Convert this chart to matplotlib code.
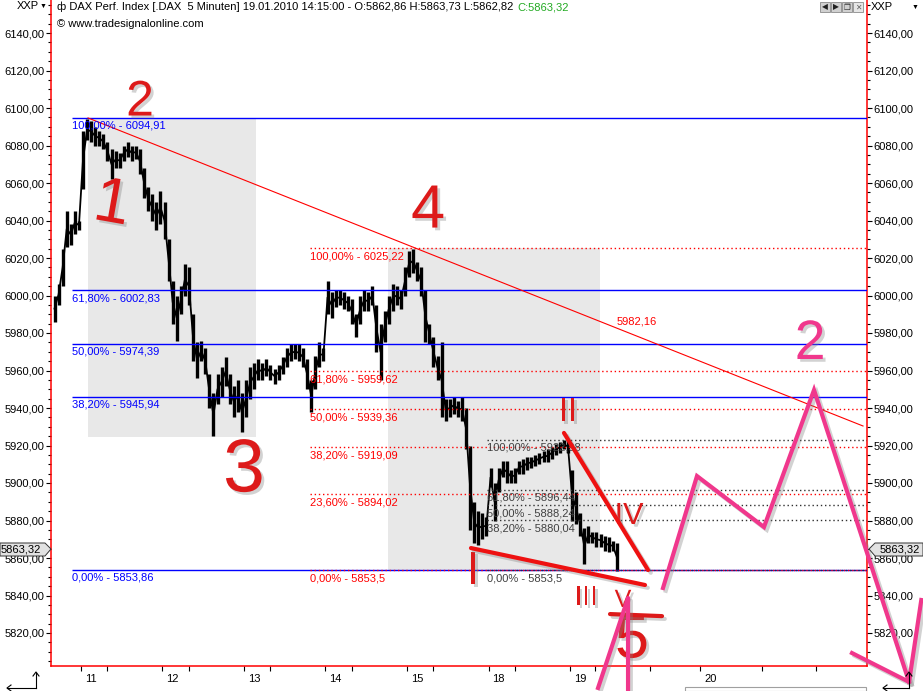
import matplotlib
matplotlib.use("Agg")
import matplotlib.pyplot as plt
import matplotlib.patheffects as pe
from matplotlib.patches import Rectangle, Polygon
from matplotlib.lines import Line2D
from matplotlib.ticker import MultipleLocator, FixedLocator, FuncFormatter
import numpy as np

plt.rcParams['font.family'] = ['Liberation Sans', 'DejaVu Sans']

# ------------------------------------------------------------------ data
# 5-minute DAX price band (low/high per ~25 min slot, 20 slots per day)
fri08_low  = [5986, 5995, 6005, 6026, 6027, 6033, 6035]
fri08_high = [6000, 6006, 6025, 6045, 6038, 6045, 6040]
jan11_low  = [6057, 6083, 6082, 6080, 6080, 6078, 6072, 6062, 6068, 6068,
              6072, 6074, 6072, 6073, 6065, 6052, 6045, 6040, 6035, 6038]
jan11_high = [6088, 6094, 6093, 6090, 6088, 6086, 6082, 6078, 6077, 6076,
              6080, 6082, 6080, 6080, 6078, 6068, 6058, 6054, 6050, 6056]
jan12_low  = [6030, 6008, 5985, 5976, 5990, 6000, 5995, 5965, 5956, 5965,
              5958, 5940, 5925, 5942, 5946, 5952, 5942, 5935, 5938, 5927]
jan12_high = [6050, 6030, 6008, 6000, 6005, 6017, 6015, 5990, 5975, 5976,
              5972, 5958, 5948, 5958, 5962, 5967, 5958, 5952, 5955, 5948]
jan13_low  = [5935, 5945, 5950, 5955, 5955, 5957, 5955, 5953, 5955, 5958,
              5962, 5965, 5966, 5965, 5962, 5950, 5938, 5950, 5962, 5965]
jan13_high = [5955, 5962, 5964, 5966, 5964, 5966, 5963, 5961, 5963, 5967,
              5972, 5974, 5974, 5974, 5972, 5966, 5955, 5968, 5975, 5972]
jan14_low  = [5990, 5988, 5994, 5995, 5993, 5992, 5985, 5978, 5985, 5992,
              5992, 5995, 5970, 5955, 5975, 5985, 5992, 5995, 5993, 6000]
jan14_high = [6008, 6002, 6003, 6003, 6002, 6000, 5998, 5990, 6000, 6003,
              6002, 6005, 5995, 5985, 5992, 6000, 6006, 6005, 6003, 6015]
jan15_low  = [6010, 6012, 6008, 6000, 5975, 5974, 5962, 5955, 5935, 5933,
              5935, 5937, 5935, 5933, 5918, 5875, 5868, 5867, 5870, 5872]
jan15_high = [6024, 6025, 6018, 6015, 6003, 5985, 5978, 5968, 5975, 5945,
              5945, 5946, 5944, 5946, 5940, 5920, 5890, 5885, 5884, 5882]
jan18_low  = [5898, 5880, 5895, 5903, 5900, 5900, 5900, 5905, 5905, 5907,
              5908, 5909, 5910, 5911, 5911, 5913, 5915, 5916, 5918, 5916]
jan18_high = [5908, 5900, 5908, 5912, 5912, 5907, 5908, 5912, 5913, 5914,
              5914, 5915, 5916, 5917, 5918, 5919, 5921, 5922, 5923, 5923]
jan19_low  = [5880, 5878, 5872, 5857, 5868, 5868, 5866, 5866, 5864, 5863, 5864, 5853]
jan19_high = [5907, 5895, 5884, 5876, 5877, 5874, 5874, 5873, 5872, 5871, 5869, 5868]

day_tick_labels = ["11", "12", "13", "14", "15", "18", "19", "20"]
day_tick_pos    = [0, 1, 2, 3, 4, 5, 6, 7.6]
midday_tick_pos = [0.32, 1.32, 2.32, 3.32, 4.32, 5.32, 6.31, 6.98, 8.36, 9.02]

fib_blue_levels = [6094.91, 6002.83, 5974.39, 5945.94, 5853.86]
fib_blue_pcts   = ["100,00%", "61,80%", "50,00%", "38,20%", "0,00%"]
fib_red_levels  = [6025.22, 5959.62, 5939.36, 5919.09, 5894.02, 5853.5]
fib_red_pcts    = ["100,00%", "61,80%", "50,00%", "38,20%", "23,60%", "0,00%"]
fib_gray_levels = [5922.98, 5896.44, 5888.24, 5880.04, 5853.5]
fib_gray_pcts   = ["100,00%", "61,80%", "50,00%", "38,20%", "0,00%"]

trend_t = [0.086, 9.595]
trend_v = [6094.7, 5930.4]
trend_label = "5982,16"
last_close = "5863,32"

# ------------------------------------------------------------------ figure
W, H = 923, 691
fig = plt.figure(figsize=(W / 100, H / 100), dpi=100)
ax = fig.add_axes([51 / W, 25 / H, 816 / W, 666 / H])
XMIN, XMAX = -0.368, 9.644
YMIN, YMAX = 5802.4, 6157.6
ax.set_xlim(XMIN, XMAX)
ax.set_ylim(YMIN, YMAX)

def F(x, y):
    return (x / W, 1 - y / H)

# shaded fib zones
ax.add_patch(Rectangle((0.086, 5924.5), 2.147 - 0.086, 6094.91 - 5924.5,
                       facecolor='#e8e8e8', edgecolor='none', zorder=0.5))
ax.add_patch(Rectangle((3.767, 5853.5), 6.368 - 3.767, 6025.22 - 5853.5,
                       facecolor='#e8e8e8', edgecolor='none', zorder=0.5))

# price band
SLOTS = 20
series = [(-1, 13, fri08_low, fri08_high), (0, 0, jan11_low, jan11_high),
          (1, 0, jan12_low, jan12_high), (2, 0, jan13_low, jan13_high),
          (3, 0, jan14_low, jan14_high), (4, 0, jan15_low, jan15_high),
          (5, 0, jan18_low, jan18_high), (6, 0, jan19_low, jan19_high)]
t_all, lo_all, hi_all = [], [], []
for d, start, lo, hi in series:
    for i, (l, h) in enumerate(zip(lo, hi)):
        t_all.append(d + (start + i + 0.5) / SLOTS)
        lo_all.append(l)
        hi_all.append(h)
t_all = np.array(t_all); lo_all = np.array(lo_all); hi_all = np.array(hi_all)
ax.vlines(t_all, lo_all, hi_all, color='black', lw=2.4, zorder=2)
ax.plot(t_all, (lo_all + hi_all) / 2, color='black', lw=1.3, zorder=2)

def fmt(v):
    s = f"{v:.2f}"
    if s.endswith('0'):
        s = s[:-1]
    return s.replace('.', ',')

# fib retracements
x_blue, x_red, x_gray = -0.11, 2.81, 4.98
for lvl, pct in zip(fib_blue_levels, fib_blue_pcts):
    ax.hlines(lvl, x_blue, XMAX + 1, color='#0000ff', lw=1.0, zorder=3)
    ax.annotate(f"{pct} - {fmt(lvl)}", (x_blue, lvl), xytext=(0, -3),
                textcoords='offset pixels', va='top', ha='left',
                color='#0000ff', fontsize=8, zorder=4)
for lvl, pct in zip(fib_red_levels, fib_red_pcts):
    ax.hlines(lvl, x_red, XMAX + 1, color='#ff0000', lw=1.0,
              linestyle=(0, (1, 2)), zorder=3)
    ax.annotate(f"{pct} - {fmt(lvl)}", (x_red, lvl), xytext=(0, -3),
                textcoords='offset pixels', va='top', ha='left',
                color='#ff0000', fontsize=8, zorder=4)
for lvl, pct in zip(fib_gray_levels, fib_gray_pcts):
    ax.hlines(lvl, x_gray, XMAX + 1, color='#303030', lw=1.0,
              linestyle=(0, (1, 2)), zorder=3)
    ax.annotate(f"{pct} - {fmt(lvl)}", (x_gray, lvl), xytext=(0, -3),
                textcoords='offset pixels', va='top', ha='left',
                color='#404040', fontsize=8, zorder=4)

# trendline
ax.plot(trend_t, trend_v, color='#ff0000', lw=0.8, zorder=3)
ax.text(6.577, 5986.4, trend_label, color='#ff0000', fontsize=8,
        ha='left', va='center', zorder=4)

# ------------------------------------------------------------------ axes styling
for s in ['left', 'right', 'bottom']:
    ax.spines[s].set_color('#ff0000')
    ax.spines[s].set_linewidth(1.1)
ax.spines['top'].set_visible(False)
ax.yaxis.set_major_locator(MultipleLocator(20))
ax.yaxis.set_minor_locator(MultipleLocator(5))
ax.yaxis.set_major_formatter(FuncFormatter(lambda v, p: f"{v:.2f}".replace('.', ',')))
ax.tick_params(axis='y', which='both', left=True, right=True, labelleft=True,
               labelright=True, direction='out', colors='black', labelsize=8,
               width=0.8, pad=1)
ax.tick_params(axis='y', which='major', length=3.6)
ax.tick_params(axis='y', which='minor', length=2.0)
ax.set_xticks([p + 0.125 for p in day_tick_pos], day_tick_labels)
ax.xaxis.set_minor_locator(FixedLocator(day_tick_pos + midday_tick_pos))
ax.tick_params(axis='x', which='major', length=0, labelsize=8, pad=6)
ax.tick_params(axis='x', which='minor', length=3.6, width=0.8, direction='out')

# ------------------------------------------------------------------ hand drawn marks
shadow_line = [pe.SimpleLineShadow(offset=(2, -2), shadow_color='gray', alpha=0.35), pe.Normal()]
shadow_text = [pe.withSimplePatchShadow(offset=(2, -2), shadow_rgbFace='gray', alpha=0.35)]
RED = '#dd1a1a'
PINK = '#f0378c'

ax.text(0.724, 6096.0, "2", color=RED, fontsize=36, ha='center', va='baseline',
        zorder=6, path_effects=shadow_text)
hand_numbers = [("1", 0.38, 6048.3, 46, -10),
                ("4", 4.258, 6044.5, 44, 0), ("3", 2.0, 5905.9, 54, 0),
                ("II", 5.975, 5937.9, 25, 0), ("IV", 6.724, 5882.4, 22, 0),
                ("I", 4.81, 5852.5, 34, 0), ("III", 6.196, 5838.7, 20, 0),
                ("V", 6.65, 5837.6, 18, 0), ("5", 6.761, 5815.2, 44, 0)]
for txt, tx, ty, fs, rot in hand_numbers:
    ax.text(tx, ty, txt, color=RED, fontsize=fs, ha='center', va='center',
            rotation=rot, zorder=6, path_effects=shadow_text, clip_on=False)

# wedge lines
ax.plot([4.785, 6.92], [5865.3, 5845.6], color='#ee1111', lw=3, zorder=6,
        solid_capstyle='round', path_effects=shadow_line)
ax.plot([5.926, 6.957], [5926.7, 5853.6], color='#ee1111', lw=3, zorder=6,
        solid_capstyle='round', path_effects=shadow_line)
ax.plot([6.491, 7.129], [5830.1, 5829.0], color=RED, lw=3, zorder=6,
        solid_capstyle='round', path_effects=shadow_line)

# pink projection zigzag
ax.plot([7.141, 7.558, 8.38, 8.994, 10.16], [5844.0, 5903.7, 5876.5, 5949.6, 5793.9],
        color=PINK, lw=3, zorder=7, clip_on=False, solid_joinstyle='miter',
        path_effects=shadow_line)
ax.plot([9.46, 10.16, 10.31], [5809.3, 5793.9, 5837.6], color=PINK, lw=3,
        zorder=7, clip_on=False, path_effects=shadow_line)
ax.plot([6.344, 6.712, 6.712], [5790.7, 5838.7, 5785.0], color=PINK, lw=3,
        zorder=7, clip_on=False, path_effects=shadow_line)
ax.text(8.945, 5973.6, "2", color=PINK, fontsize=40, ha='center', va='center',
        zorder=7, path_effects=shadow_text)

# ------------------------------------------------------------------ header / chrome
fig.text(*F(17, 6), "XXP", fontsize=8, va='center', ha='left')
fig.text(*F(40, 6), "▼", fontsize=5, va='center', ha='left')
fig.text(*F(871, 7), "XXP", fontsize=8, va='center', ha='left')
fig.text(*F(912, 7), "▼", fontsize=5, va='center', ha='left')
hdr = fig.text(*F(57, 7), "ф DAX Perf. Index [.DAX  5 Minuten] 19.01.2010 14:15:00 - "
               "O:5862,86 H:5863,73 L:5862,82", fontsize=8, va='center', ha='left')
fig.add_artist(matplotlib.text.Annotation(
    "C:5863,32", xy=(1, 0.5), xycoords=hdr, xytext=(4, 0),
    textcoords='offset pixels', fontsize=8, va='center', ha='left', color='#22aa22'))
fig.text(*F(57, 24), "© www.tradesignalonline.com", fontsize=8, va='center', ha='left')

for k, g in enumerate(["◀", "▶", "❐", "✕"]):
    x0 = 820 + k * 11
    fig.add_artist(Rectangle(F(x0, 12), 10 / W, 10 / H, transform=fig.transFigure,
                             facecolor='#d0d0d0' if k < 3 else '#e6e6e6',
                             edgecolor='#8a8a8a', lw=0.6))
    fig.text(*F(x0 + 5, 7), g, fontsize=5.5, ha='center', va='center',
             family=['DejaVu Sans'], color='#202020' if k < 3 else '#606060')

# last price tags
tag_y = 549
fig.add_artist(Polygon([F(0, 543), F(45, 543), F(51, tag_y), F(45, 556), F(0, 556)],
                       closed=True, transform=fig.transFigure, facecolor='#e2e2e2',
                       edgecolor='#333333', lw=0.7))
fig.text(*F(1, tag_y), last_close, fontsize=8, va='center', ha='left')
fig.add_artist(Polygon([F(869, tag_y), F(875, 543), F(923, 543), F(923, 556), F(875, 556)],
                       closed=True, transform=fig.transFigure, facecolor='#e2e2e2',
                       edgecolor='#333333', lw=0.7))
fig.text(*F(880, tag_y), last_close, fontsize=8, va='center', ha='left')

# bottom corner icons and scroll box
for xv, xh in [(36, 7), (909, 883)]:
    fig.add_artist(Line2D([xv / W, xv / W], [1 - 688 / H, 1 - 673 / H],
                          transform=fig.transFigure, color='black', lw=0.8))
    fig.add_artist(Line2D([xh / W, xv / W], [1 - 688 / H, 1 - 688 / H],
                          transform=fig.transFigure, color='black', lw=0.8))
    fig.add_artist(Line2D([(xv - 3) / W, xv / W, (xv + 3) / W],
                          [1 - 676 / H, 1 - 672 / H, 1 - 676 / H],
                          transform=fig.transFigure, color='black', lw=0.8))
    fig.add_artist(Line2D([(xh + 4) / W, xh / W, (xh + 4) / W],
                          [1 - 685 / H, 1 - 688 / H, 1 - 691 / H],
                          transform=fig.transFigure, color='black', lw=0.8))
fig.add_artist(Rectangle(F(685, 691), 181 / W, 4 / H, transform=fig.transFigure,
                         facecolor='white', edgecolor='#a0a0a0', lw=0.8))

fig.savefig("out.png", dpi=100)
